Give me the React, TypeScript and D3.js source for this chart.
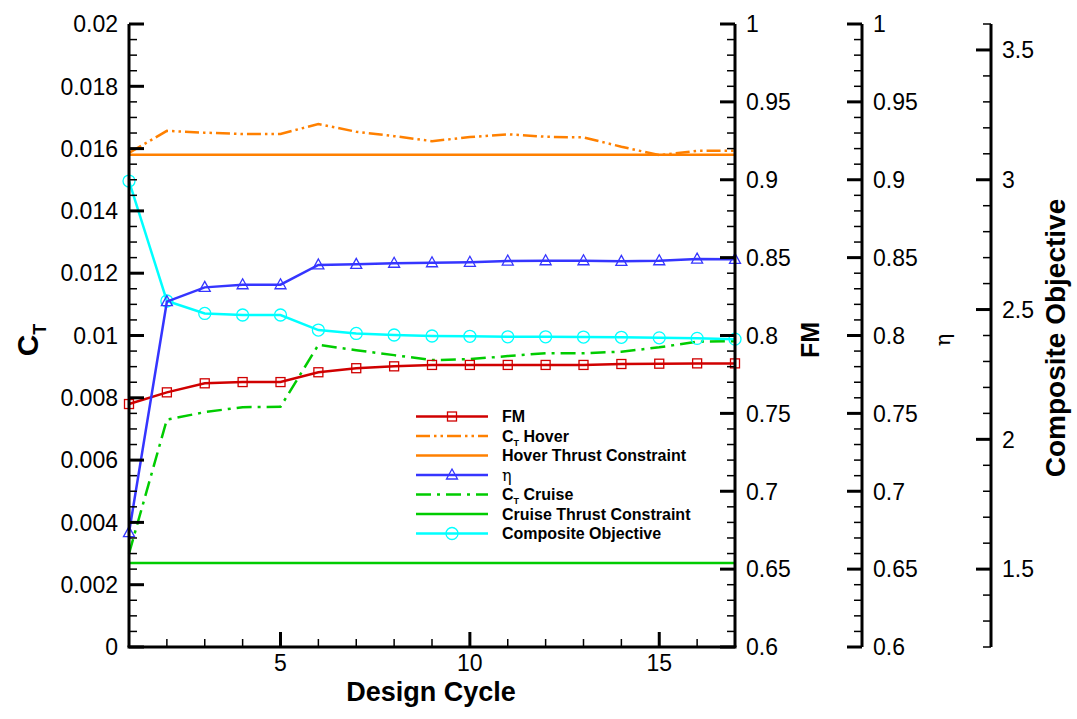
import React, { useRef, useEffect } from 'react'
import * as d3 from 'd3'

const cycles = [1, 2, 3, 4, 5, 6, 7, 8, 9, 10, 11, 12, 13, 14, 15, 16, 17]
const fmValues = [0.756, 0.7635, 0.7693, 0.7701, 0.7701, 0.7764, 0.779, 0.7802, 0.7811, 0.7811, 0.7811, 0.7811, 0.7811, 0.7817, 0.7819, 0.7821, 0.7821]
const ctHover = [0.01586, 0.01657, 0.01651, 0.01647, 0.01647, 0.01679, 0.01654, 0.0164, 0.01624, 0.01637, 0.01646, 0.01638, 0.01636, 0.01606, 0.01579, 0.01593, 0.01593]
const hoverConstraint = 0.0158
const etaValues = [0.6734, 0.8217, 0.8309, 0.8326, 0.8326, 0.8453, 0.8457, 0.8464, 0.8467, 0.847, 0.8478, 0.848, 0.848, 0.8476, 0.848, 0.8491, 0.8489]
const ctCruise = [0.003, 0.0073, 0.00754, 0.0077, 0.00771, 0.0097, 0.00953, 0.00937, 0.00921, 0.00924, 0.00934, 0.00943, 0.00943, 0.00948, 0.00962, 0.0098, 0.00982]
const cruiseConstraint = 0.0027
const compositeValues = [2.995, 2.533, 2.485, 2.479, 2.479, 2.421, 2.408, 2.402, 2.398, 2.397, 2.395, 2.395, 2.394, 2.393, 2.391, 2.389, 2.386]

const ctTicks = [0, 0.002, 0.004, 0.006, 0.008, 0.01, 0.012, 0.014, 0.016, 0.018, 0.02]
const fmTicks = [0.6, 0.65, 0.7, 0.75, 0.8, 0.85, 0.9, 0.95, 1]
const compTicks = [1.5, 2, 2.5, 3, 3.5]
const cycleTicks = [5, 10, 15]

const RED = '#d00000'
const ORANGE = '#ff8000'
const BLUE = '#3535ff'
const GREEN = '#00cc00'
const CYAN = '#00ffff'
const FONT = '"Liberation Sans", Arial, sans-serif'
const TICK_FONT = 23

export default function App() {
  const ref = useRef<SVGSVGElement | null>(null)

  useEffect(() => {
    const svg = d3.select(ref.current)
    svg.selectAll('*').remove()

    const left = 129, right = 735, top = 24, bottom = 647
    const etaX = 862, compX = 991

    const x = d3.scaleLinear().domain([1, 17]).range([left, right])
    const yCt = d3.scaleLinear().domain([0, 0.02]).range([bottom, top])
    const yFm = d3.scaleLinear().domain([0.6, 1]).range([bottom, top])
    const yComp = d3.scaleLinear().domain([1.2, 3.6]).range([bottom, top])

    const g = svg.append('g')

    // vertical axis helper: ticks pointing left (dir=-1) or right (dir=1)
    function vAxis(ax: number, scale: any, majors: number[], minors: number[], dir: number, labelSide: number, fmt: (v: number) => string) {
      const a = g.append('g')
      minors.forEach(v => {
        a.append('line').attr('x1', ax).attr('x2', ax + dir * 8)
          .attr('y1', scale(v)).attr('y2', scale(v))
          .attr('stroke', '#000').attr('stroke-width', 1.5)
      })
      majors.forEach(v => {
        a.append('line').attr('x1', ax).attr('x2', ax + dir * 15)
          .attr('y1', scale(v)).attr('y2', scale(v))
          .attr('stroke', '#000').attr('stroke-width', 3)
        a.append('text')
          .attr('x', ax + labelSide * 11)
          .attr('y', scale(v))
          .attr('dy', '0.36em')
          .attr('text-anchor', labelSide < 0 ? 'end' : 'start')
          .attr('font-family', FONT).attr('font-size', TICK_FONT)
          .text(fmt(v))
      })
      a.append('line').attr('x1', ax).attr('x2', ax)
        .attr('y1', top).attr('y2', bottom)
        .attr('stroke', '#000').attr('stroke-width', 3)
    }

    const ctMinors = d3.range(0, 0.02001, 0.0005).filter(v => Math.abs(v / 0.002 - Math.round(v / 0.002)) > 1e-6)
    const fmMinors = d3.range(0.6, 1.0001, 0.01).filter(v => Math.abs(v / 0.05 - Math.round(v / 0.05)) > 1e-6)
    const compMinors = d3.range(1.2, 3.6001, 0.1).filter(v => Math.abs(v / 0.5 - Math.round(v / 0.5)) > 1e-6)

    // series (drawn under the axes)
    const lines = g.append('g')
    const line = (ys: any) => d3.line<number>().x((_, i) => x(cycles[i])).y(d => ys(d))

    lines.append('line').attr('x1', left).attr('x2', right)
      .attr('y1', yCt(hoverConstraint)).attr('y2', yCt(hoverConstraint))
      .attr('stroke', ORANGE).attr('stroke-width', 2.5)
    lines.append('line').attr('x1', left).attr('x2', right)
      .attr('y1', yCt(cruiseConstraint)).attr('y2', yCt(cruiseConstraint))
      .attr('stroke', GREEN).attr('stroke-width', 2.5)

    const series = [
      { data: ctHover, scale: yCt, color: ORANGE, dash: '14,4,2.5,4,2.5,4', marker: null },
      { data: ctCruise, scale: yCt, color: GREEN, dash: '15,6,3,6', marker: null },
      { data: compositeValues, scale: yComp, color: CYAN, dash: null, marker: 'circle' },
      { data: fmValues, scale: yFm, color: RED, dash: null, marker: 'square' },
      { data: etaValues, scale: yFm, color: BLUE, dash: null, marker: 'triangle' },
    ]

    function drawMarker(sel: any, type: string, cx: number, cy: number, color: string) {
      if (type === 'circle') {
        sel.append('circle').attr('cx', cx).attr('cy', cy).attr('r', 6)
          .attr('fill', 'none').attr('stroke', color).attr('stroke-width', 1.3)
      } else if (type === 'square') {
        sel.append('rect').attr('x', cx - 4.5).attr('y', cy - 4.5).attr('width', 9).attr('height', 9)
          .attr('fill', 'none').attr('stroke', color).attr('stroke-width', 1.3)
      } else if (type === 'triangle') {
        sel.append('path').attr('d', `M${cx},${cy - 6}L${cx + 5.5},${cy + 4}L${cx - 5.5},${cy + 4}Z`)
          .attr('fill', 'none').attr('stroke', color).attr('stroke-width', 1.3)
      }
    }

    series.forEach(s => {
      lines.append('path').datum(s.data)
        .attr('d', line(s.scale))
        .attr('fill', 'none').attr('stroke', s.color).attr('stroke-width', 2.5)
        .attr('stroke-dasharray', s.dash)
      if (s.marker) {
        s.data.forEach((v, i) => drawMarker(lines, s.marker as string, x(cycles[i]), s.scale(v), s.color))
      }
    })

    // axes
    vAxis(left, yCt, ctTicks, ctMinors, 1, -1, v => (v === 0 ? '0' : d3.format('~g')(+v.toFixed(4))))
    vAxis(right, yFm, fmTicks, fmMinors, -1, 1, v => d3.format('~g')(+v.toFixed(2)))
    vAxis(etaX, yFm, fmTicks, fmMinors, -1, 1, v => d3.format('~g')(+v.toFixed(2)))
    vAxis(compX, yComp, compTicks, compMinors, -1, 1, v => d3.format('~g')(+v.toFixed(1)))

    // bottom axis
    const bx = g.append('g')
    cycles.filter(c => !cycleTicks.includes(c) && c !== 1 && c !== 17).forEach(c => {
      bx.append('line').attr('x1', x(c)).attr('x2', x(c)).attr('y1', bottom).attr('y2', bottom - 8)
        .attr('stroke', '#000').attr('stroke-width', 1.5)
    })
    cycleTicks.forEach(c => {
      bx.append('line').attr('x1', x(c)).attr('x2', x(c)).attr('y1', bottom).attr('y2', bottom - 15)
        .attr('stroke', '#000').attr('stroke-width', 3)
      bx.append('text').attr('x', x(c)).attr('y', bottom + 24)
        .attr('text-anchor', 'middle').attr('font-family', FONT).attr('font-size', TICK_FONT)
        .text(c)
    })
    bx.append('line').attr('x1', left - 1.5).attr('x2', right + 1.5).attr('y1', bottom).attr('y2', bottom)
      .attr('stroke', '#000').attr('stroke-width', 3)

    // axis titles
    g.append('text').attr('x', 431).attr('y', 701)
      .attr('text-anchor', 'middle').attr('font-family', FONT).attr('font-size', 27).attr('font-weight', 'bold')
      .text('Design Cycle')

    const ct = g.append('text').attr('transform', 'translate(38,340) rotate(-90)')
      .attr('text-anchor', 'middle').attr('font-family', FONT).attr('font-size', 30).attr('font-weight', 'bold')
    ct.append('tspan').text('C')
    ct.append('tspan').attr('font-size', 18).attr('dy', 8).text('T')

    g.append('text').attr('transform', 'translate(819,340) rotate(-90)')
      .attr('text-anchor', 'middle').attr('font-family', FONT).attr('font-size', 25).attr('font-weight', 'bold')
      .text('FM')
    g.append('text').attr('transform', 'translate(950,340) rotate(-90)')
      .attr('text-anchor', 'middle').attr('font-family', '"DejaVu Serif", serif').attr('font-size', 21)
      .text('η')
    g.append('text').attr('transform', 'translate(1065,338) rotate(-90)')
      .attr('text-anchor', 'middle').attr('font-family', FONT).attr('font-size', 28).attr('font-weight', 'bold')
      .text('Composite Objective')

    // legend
    const legendItems = [
      { label: 'FM', sub: null, color: RED, dash: null, marker: 'square' },
      { label: 'C', sub: 'T', rest: ' Hover', color: ORANGE, dash: '14,4,2.5,4,2.5,4', marker: null },
      { label: 'Hover Thrust Constraint', sub: null, color: ORANGE, dash: null, marker: null },
      { label: 'η', sub: null, color: BLUE, dash: null, marker: 'triangle', symbol: true },
      { label: 'C', sub: 'T', rest: ' Cruise', color: GREEN, dash: '15,6,3,6', marker: null },
      { label: 'Cruise Thrust Constraint', sub: null, color: GREEN, dash: null, marker: null },
      { label: 'Composite Objective', sub: null, color: CYAN, dash: null, marker: 'circle' },
    ]
    const lg = g.append('g')
    legendItems.forEach((it: any, i) => {
      const ly = 416.5 + i * 19.5
      lg.append('line').attr('x1', 416).attr('x2', 488).attr('y1', ly).attr('y2', ly)
        .attr('stroke', it.color).attr('stroke-width', 2.5).attr('stroke-dasharray', it.dash)
      if (it.marker) drawMarker(lg, it.marker, 452, ly, it.color)
      const t = lg.append('text').attr('x', 502).attr('y', ly).attr('dy', '0.36em')
        .attr('font-family', it.symbol ? '"DejaVu Serif", serif' : FONT)
        .attr('font-size', it.symbol ? 16 : 16).attr('font-weight', it.symbol ? 'normal' : 'bold')
      if (it.sub) {
        t.append('tspan').text(it.label)
        t.append('tspan').attr('font-size', 9).attr('dy', 4).text(it.sub)
        t.append('tspan').attr('dy', -4).text(it.rest)
      } else {
        t.text(it.label)
      }
    })
  }, [])

  return (
    <svg ref={ref} width={1077} height={719} style={{ display: 'block', position: 'absolute', left: 0, top: 0, background: '#fff' }} />
  )
}
